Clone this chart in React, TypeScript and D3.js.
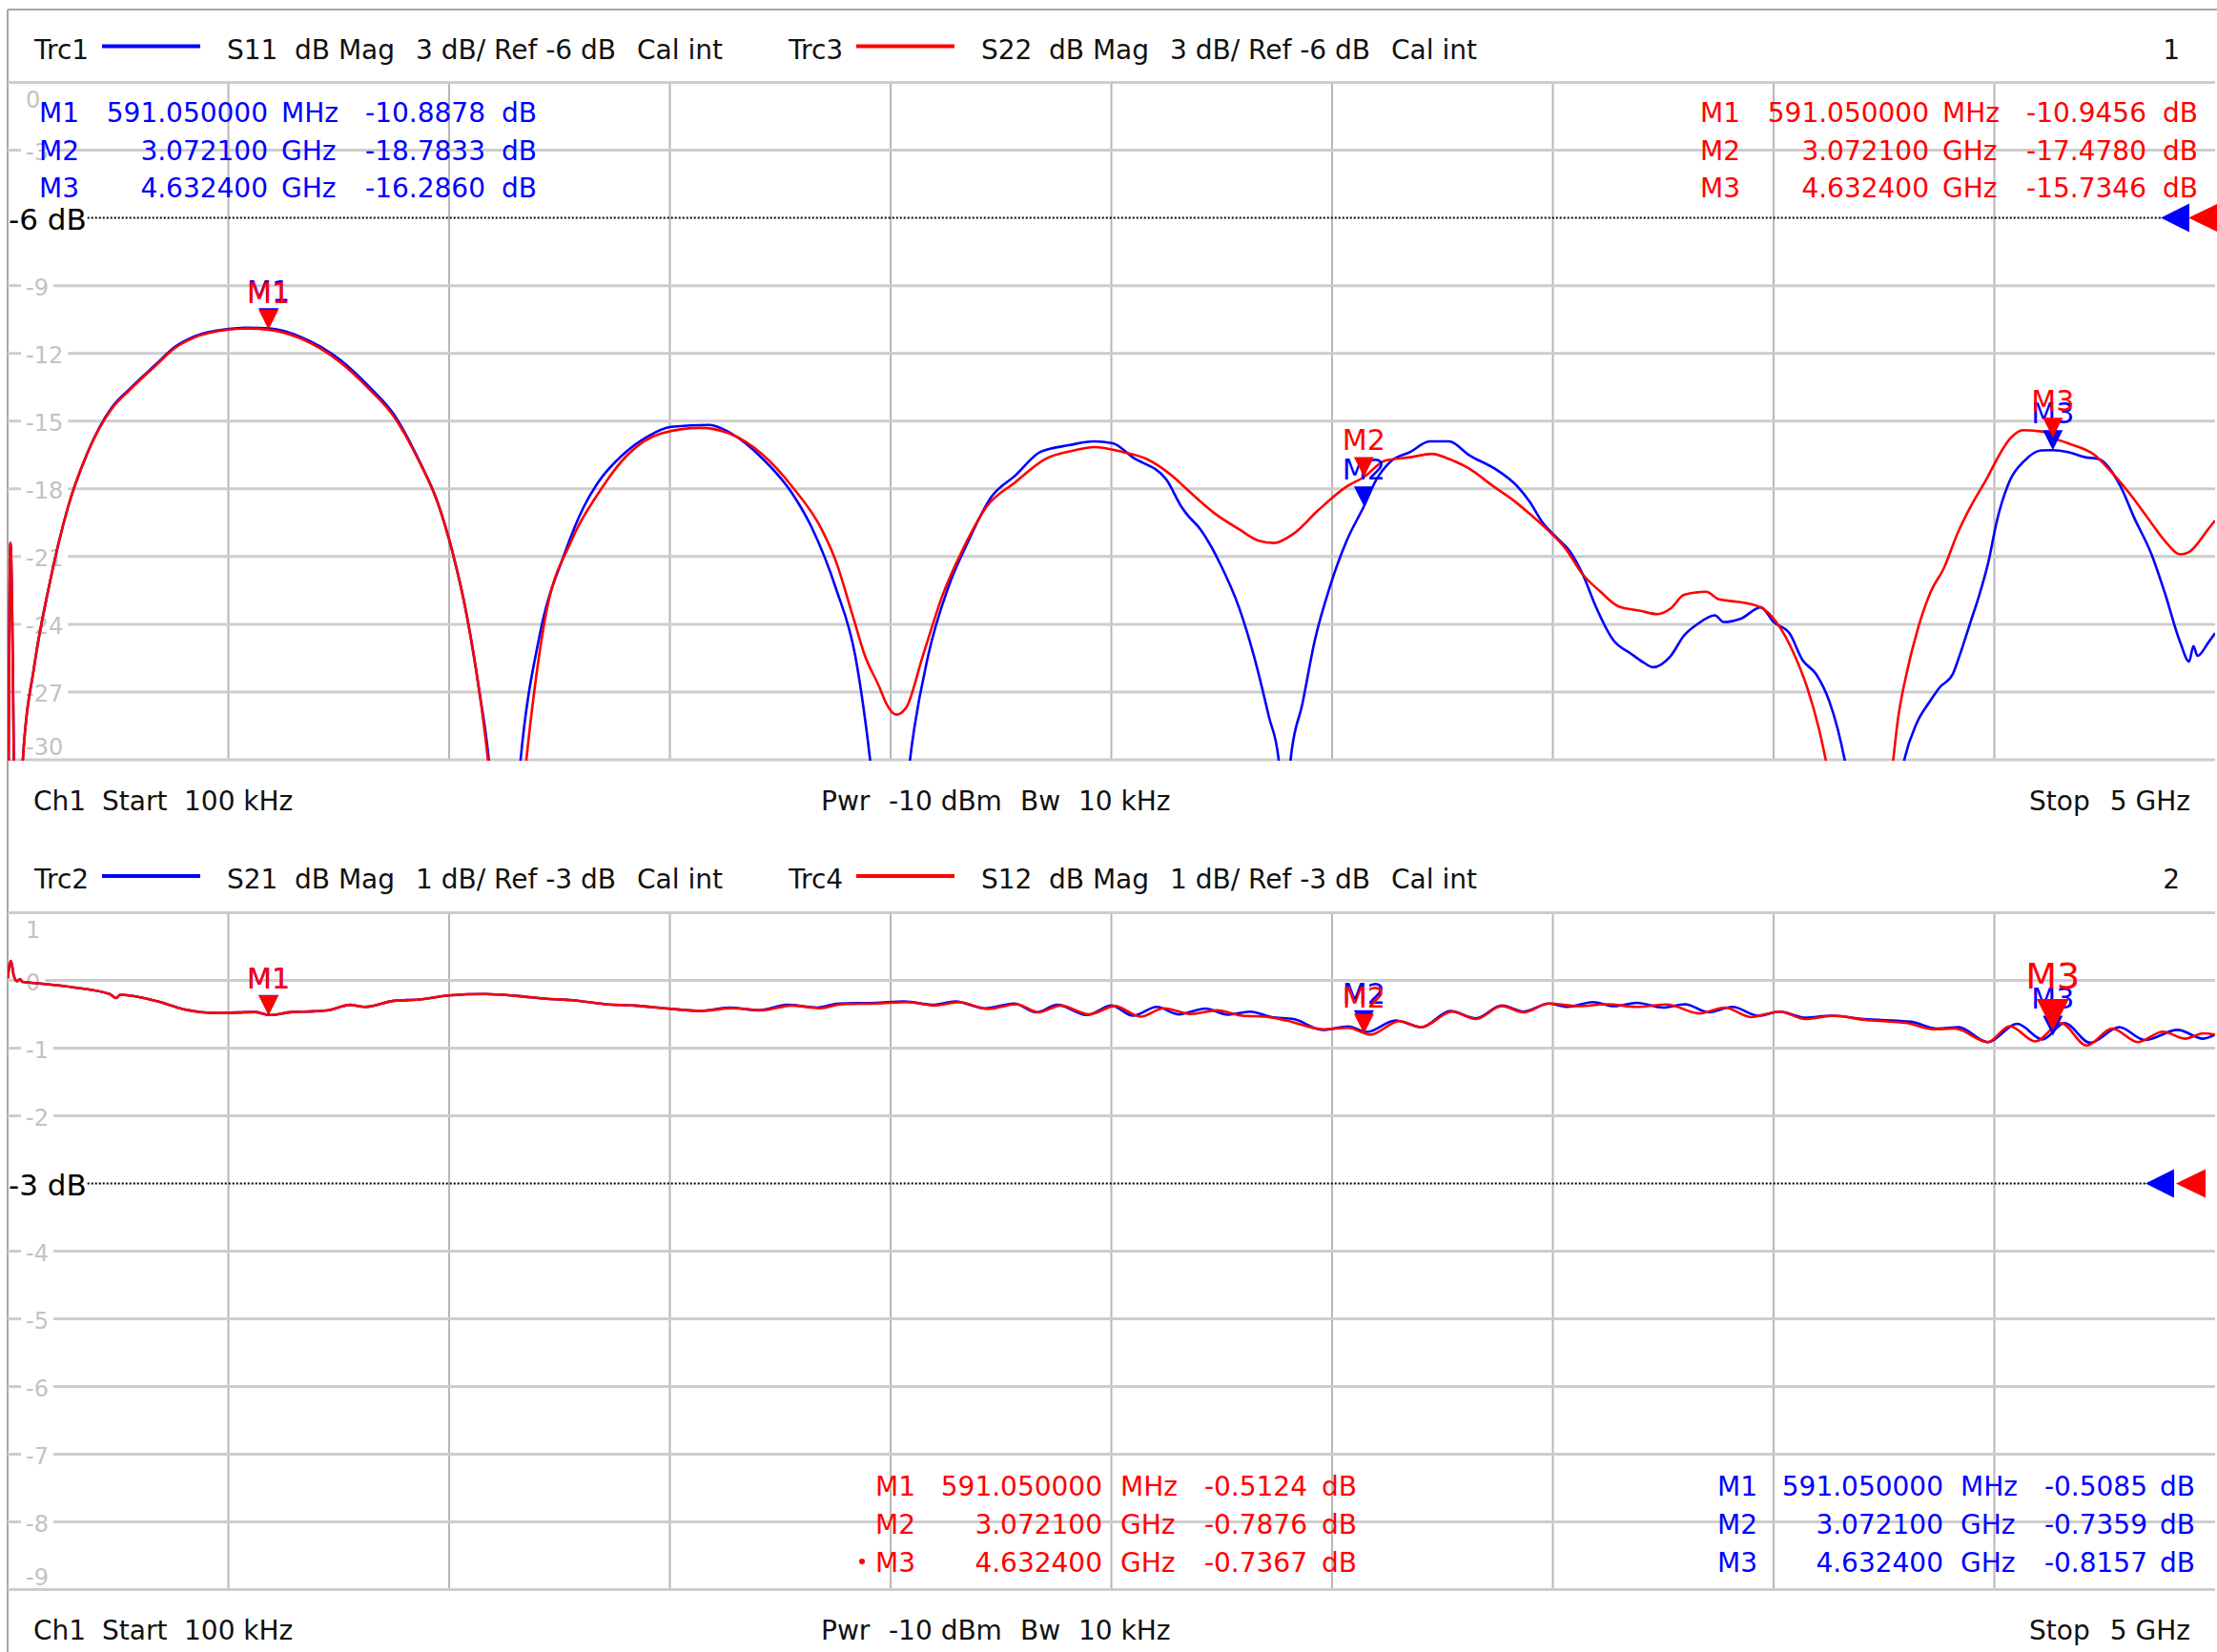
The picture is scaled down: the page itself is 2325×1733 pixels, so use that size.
import { useRef, useEffect } from 'react';
import * as d3 from 'd3';

type Pt = [number, number]; // [GHz, dB]

const WIDTH = 2325;
const HEIGHT = 1733;
const FONT = '"DejaVu Sans", Verdana, sans-serif';
const BLUE = '#0000ff';
const RED = '#ff0000';

const FREQ_START = 0.0001; // 100 kHz in GHz
const FREQ_STOP = 5;

// Marker table
const markerNames = ['M1', 'M2', 'M3'];
const markerFreqs = [0.59105, 3.0721, 4.6324];
const markerFreqText = ['591.050000', '3.072100', '4.632400'];
const markerUnits = ['MHz', 'GHz', 'GHz'];
const s11Markers = [-10.8878, -18.7833, -16.286];
const s22Markers = [-10.9456, -17.478, -15.7346];
const s21Markers = [-0.5085, -0.7359, -0.8157];
const s12Markers = [-0.5124, -0.7876, -0.7367];

const s11: Pt[] = [
    [0.0001, -40], [0.0065, -20.4], [0.022, -40], [0.0346, -30], [0.06, -25.9], [0.093, -22.4],
    [0.137, -18.8], [0.181, -16.4], [0.236, -14.4], [0.275, -13.6], [0.335, -12.5], [0.38, -11.7],
    [0.423, -11.25], [0.501, -10.92], [0.544, -10.86], [0.594, -10.9], [0.665, -11.28], [0.754, -12.3],
    [0.82, -13.5], [0.875, -14.7], [0.93, -16.66], [0.974, -18.6], [1.007, -20.75], [1.04, -23.6],
    [1.068, -26.9], [1.09, -30], [1.125, -40], [1.162, -30], [1.205, -24.5], [1.261, -20.9],
    [1.305, -18.8], [1.338, -17.7], [1.393, -16.5], [1.448, -15.7], [1.503, -15.25], [1.59, -15.17],
    [1.635, -15.5], [1.711, -16.68], [1.777, -18.2], [1.821, -19.7], [1.876, -22.4], [1.92, -25.4],
    [1.953, -29.9], [2.0, -40], [2.044, -30], [2.085, -25.4], [2.13, -22.4], [2.173, -20.45],
    [2.229, -18.34], [2.283, -17.4], [2.339, -16.37], [2.404, -16.07], [2.46, -15.9], [2.503, -15.98],
    [2.548, -16.6], [2.625, -17.6], [2.659, -18.8], [2.67, -19.1], [2.702, -19.8], [2.746, -21.3],
    [2.79, -23.3], [2.823, -25.4], [2.857, -28.1], [2.879, -30], [2.892, -40], [2.906, -30],
    [2.933, -27.5], [2.961, -24.7], [2.994, -22.4], [3.033, -20.3], [3.072, -18.78], [3.1, -17.6],
    [3.132, -16.8], [3.177, -16.37], [3.221, -15.9], [3.265, -15.9], [3.31, -16.5], [3.376, -17.2],
    [3.42, -17.9], [3.447, -18.56], [3.477, -19.5], [3.508, -20.15], [3.538, -20.75], [3.568, -21.8],
    [3.597, -23.2], [3.637, -24.7], [3.677, -25.3], [3.706, -25.7], [3.727, -25.9], [3.767, -25.4],
    [3.797, -24.5], [3.827, -24.0], [3.867, -23.6], [3.887, -23.9], [3.926, -23.75], [3.971, -23.25],
    [4.0, -23.9], [4.036, -24.4], [4.066, -25.6], [4.096, -26.2], [4.126, -27.4], [4.146, -28.7],
    [4.161, -30], [4.23, -40], [4.296, -30], [4.326, -28.3], [4.351, -27.5], [4.376, -26.8],
    [4.406, -26.2], [4.421, -25.4], [4.446, -23.9], [4.466, -22.7], [4.487, -21.2], [4.506, -19.4],
    [4.536, -17.6], [4.566, -16.8], [4.606, -16.3], [4.632, -16.29], [4.667, -16.37], [4.706, -16.6],
    [4.736, -16.68], [4.786, -17.9], [4.816, -19.25], [4.856, -20.9], [4.886, -22.6], [4.921, -24.8],
    [4.941, -25.65], [4.951, -24.97], [4.96, -25.4], [4.985, -24.8], [5.0, -24.4],
];

// S22 (Trc3) dB
const s22: Pt[] = [
    [0.0001, -40], [0.0065, -20.4], [0.022, -40], [0.0346, -30], [0.06, -25.9], [0.093, -22.4],
    [0.137, -18.8], [0.181, -16.4], [0.236, -14.45], [0.275, -13.65], [0.335, -12.55], [0.38, -11.75],
    [0.423, -11.3], [0.501, -10.95], [0.544, -10.9], [0.591, -10.95], [0.665, -11.35], [0.754, -12.4],
    [0.82, -13.6], [0.875, -14.8], [0.93, -16.7], [0.974, -18.6], [1.007, -20.75], [1.04, -23.6],
    [1.068, -26.9], [1.088, -30], [1.13, -40], [1.175, -30], [1.216, -23.9], [1.277, -20.3],
    [1.338, -18.2], [1.404, -16.5], [1.48, -15.55], [1.57, -15.3], [1.635, -15.55], [1.711, -16.5],
    [1.777, -17.9], [1.844, -19.8], [1.876, -21.2], [1.914, -23.6], [1.942, -25.4], [1.975, -26.8],
    [1.99, -27.5], [2.013, -28.0], [2.035, -27.7], [2.073, -25.4], [2.118, -22.7], [2.162, -20.75],
    [2.217, -18.8], [2.283, -17.7], [2.35, -16.68], [2.416, -16.3], [2.46, -16.15], [2.526, -16.37],
    [2.58, -16.68], [2.636, -17.4], [2.67, -18.0], [2.735, -19.1], [2.79, -19.8], [2.834, -20.3],
    [2.868, -20.4], [2.912, -20.0], [2.968, -18.96], [3.033, -17.9], [3.072, -17.48], [3.12, -16.75],
    [3.177, -16.6], [3.226, -16.45], [3.265, -16.68], [3.31, -17.1], [3.366, -17.9], [3.41, -18.5],
    [3.447, -19.1], [3.487, -19.8], [3.527, -20.6], [3.568, -21.8], [3.608, -22.56], [3.648, -23.2],
    [3.698, -23.4], [3.737, -23.55], [3.767, -23.3], [3.797, -22.7], [3.847, -22.56], [3.877, -22.9],
    [3.917, -23.0], [3.971, -23.25], [4.006, -23.9], [4.046, -25.3], [4.076, -26.8], [4.106, -28.9],
    [4.118, -30], [4.19, -40], [4.271, -30], [4.281, -28.3], [4.301, -26.2], [4.326, -24.25],
    [4.356, -22.56], [4.386, -21.5], [4.416, -20.0], [4.446, -18.8], [4.487, -17.4], [4.506, -16.68],
    [4.536, -15.77], [4.566, -15.4], [4.611, -15.47], [4.632, -15.73], [4.667, -15.98], [4.727, -16.5],
    [4.767, -17.3], [4.806, -18.2], [4.846, -19.25], [4.886, -20.3], [4.921, -20.9], [4.941, -20.8],
    [4.985, -19.77], [5.0, -19.4],
];

// S21 (Trc2) dB
const s21: Pt[] = [
    [0.0001, 0.03], [0.0075, 0.29], [0.014, 0.075], [0.022, -0.01], [0.028, 0.02], [0.034, -0.02],
    [0.065, -0.04], [0.148, -0.1], [0.231, -0.2], [0.246, -0.26], [0.255, -0.21], [0.346, -0.32],
    [0.396, -0.42], [0.479, -0.48], [0.561, -0.465], [0.594, -0.51], [0.644, -0.465], [0.693, -0.455],
    [0.727, -0.44], [0.776, -0.36], [0.809, -0.39], [0.875, -0.3], [0.933, -0.28], [0.999, -0.22],
    [1.082, -0.2], [1.156, -0.23], [1.222, -0.27], [1.279, -0.29], [1.354, -0.35], [1.42, -0.37],
    [1.503, -0.42], [1.569, -0.45], [1.635, -0.4], [1.701, -0.44], [1.766, -0.36], [1.834, -0.4],
    [1.883, -0.34], [1.966, -0.33], [2.031, -0.31], [2.097, -0.36], [2.147, -0.31], [2.214, -0.41],
    [2.28, -0.34], [2.33, -0.47], [2.378, -0.36], [2.445, -0.51], [2.5, -0.37], [2.549, -0.52],
    [2.603, -0.39], [2.652, -0.5], [2.714, -0.415], [2.764, -0.505], [2.814, -0.46], [2.863, -0.54],
    [2.913, -0.57], [2.979, -0.73], [3.037, -0.68], [3.078, -0.76], [3.144, -0.59], [3.202, -0.69],
    [3.268, -0.45], [3.326, -0.56], [3.384, -0.37], [3.434, -0.46], [3.491, -0.34], [3.533, -0.39],
    [3.591, -0.32], [3.64, -0.38], [3.69, -0.33], [3.75, -0.4], [3.799, -0.35], [3.853, -0.47],
    [3.907, -0.39], [3.965, -0.52], [4.014, -0.46], [4.072, -0.55], [4.13, -0.52], [4.204, -0.57],
    [4.312, -0.61], [4.37, -0.71], [4.419, -0.69], [4.485, -0.91], [4.552, -0.64], [4.609, -0.87],
    [4.659, -0.63], [4.717, -0.92], [4.783, -0.69], [4.841, -0.88], [4.915, -0.73], [4.973, -0.86],
    [5.0, -0.8],
];

// S12 (Trc4) dB
const s12: Pt[] = [
    [0.0001, 0.03], [0.0075, 0.29], [0.014, 0.075], [0.022, -0.01], [0.028, 0.02], [0.034, -0.02],
    [0.065, -0.04], [0.148, -0.1], [0.231, -0.2], [0.246, -0.26], [0.255, -0.21], [0.346, -0.32],
    [0.396, -0.42], [0.479, -0.48], [0.561, -0.465], [0.594, -0.51], [0.644, -0.465], [0.693, -0.455],
    [0.727, -0.44], [0.776, -0.36], [0.809, -0.39], [0.875, -0.3], [0.933, -0.28], [0.999, -0.22],
    [1.082, -0.2], [1.156, -0.23], [1.222, -0.27], [1.279, -0.29], [1.354, -0.35], [1.42, -0.37],
    [1.503, -0.42], [1.569, -0.45], [1.64, -0.41], [1.71, -0.44], [1.775, -0.37], [1.84, -0.41],
    [1.89, -0.35], [1.97, -0.34], [2.04, -0.32], [2.1, -0.37], [2.155, -0.32], [2.22, -0.42],
    [2.285, -0.35], [2.335, -0.47], [2.385, -0.37], [2.45, -0.5], [2.508, -0.377], [2.566, -0.533],
    [2.619, -0.41], [2.681, -0.495], [2.739, -0.44], [2.797, -0.52], [2.847, -0.533], [2.896, -0.59],
    [2.979, -0.72], [3.037, -0.7], [3.087, -0.8], [3.152, -0.6], [3.202, -0.69], [3.272, -0.46],
    [3.326, -0.57], [3.384, -0.38], [3.434, -0.47], [3.491, -0.34], [3.558, -0.38], [3.624, -0.35],
    [3.69, -0.39], [3.758, -0.354], [3.832, -0.486], [3.89, -0.4], [3.948, -0.54], [4.014, -0.46],
    [4.072, -0.57], [4.138, -0.52], [4.204, -0.58], [4.303, -0.63], [4.361, -0.72], [4.411, -0.71],
    [4.485, -0.91], [4.535, -0.675], [4.593, -0.9], [4.651, -0.63], [4.709, -0.96], [4.767, -0.71],
    [4.825, -0.91], [4.882, -0.755], [4.932, -0.86], [4.973, -0.78], [5.0, -0.8],
];

interface ReadoutCols { m: number; num: number; unit: number; val: number; db: number; }

interface PlotSpec {
    top: number;
    bottom: number;
    yMax: number;
    yMin: number;
    step: number;
    ref: number;
    headerY: number;
    footerY: number;
    trcBlue: string;
    sBlue: string;
    trcRed: string;
    sRed: string;
    scaleText: string;
    channel: string;
    blue: Pt[];
    red: Pt[];
    blueMarkers: number[];
    redMarkers: number[];
    blueCols: ReadoutCols;
    redCols: ReadoutCols;
    readoutRows: number[];
    refTri: { blue: number; red: number };
    activeRed: number; // index of active (big) red marker, -1 for none
}

const LEFT = 8;
const RIGHT = 2323;

export default function App() {
    const svgRef = useRef<SVGSVGElement>(null);

    useEffect(() => {
        document.body.style.margin = '0';
        if (!svgRef.current) return;
        const svg = d3.select(svgRef.current);
        svg.selectAll('*').remove();

        const xScale = d3.scaleLinear().domain([FREQ_START, FREQ_STOP]).range([LEFT, RIGHT]);

        // outer frame
        svg.append('line').attr('x1', LEFT).attr('x2', WIDTH).attr('y1', 10).attr('y2', 10)
            .attr('stroke', '#a8a8a8').attr('stroke-width', 2);
        svg.append('line').attr('x1', LEFT).attr('x2', LEFT).attr('y1', 10).attr('y2', HEIGHT)
            .attr('stroke', '#a8a8a8').attr('stroke-width', 2);

        const plots: PlotSpec[] = [
            {
                top: 86.5, bottom: 797, yMax: 0, yMin: -30, step: 3, ref: -6,
                headerY: 61.5, footerY: 850,
                trcBlue: 'Trc1', sBlue: 'S11', trcRed: 'Trc3', sRed: 'S22',
                scaleText: '3 dB/ Ref -6 dB', channel: '1',
                blue: s11, red: s22, blueMarkers: s11Markers, redMarkers: s22Markers,
                blueCols: { m: 41, num: 281, unit: 295, val: 509, db: 526 },
                redCols: { m: 1783, num: 2023, unit: 2037, val: 2251, db: 2268 },
                readoutRows: [128, 167.5, 207],
                refTri: { blue: 2266, red: 2295 },
                activeRed: -1,
            },
            {
                top: 957.6, bottom: 1667.5, yMax: 1, yMin: -9, step: 1, ref: -3,
                headerY: 932, footerY: 1720,
                trcBlue: 'Trc2', sBlue: 'S21', trcRed: 'Trc4', sRed: 'S12',
                scaleText: '1 dB/ Ref -3 dB', channel: '2',
                blue: s21, red: s12, blueMarkers: s21Markers, redMarkers: s12Markers,
                blueCols: { m: 1801, num: 2038, unit: 2056, val: 2252, db: 2265 },
                redCols: { m: 918, num: 1156, unit: 1175, val: 1371, db: 1386 },
                readoutRows: [1569, 1609, 1649],
                refTri: { blue: 2250, red: 2282 },
                activeRed: 2,
            },
        ];

        const txt = (g: d3.Selection<SVGGElement, unknown, null, undefined>, x: number, y: number,
            s: string, opts: { size?: number; fill?: string; anchor?: string } = {}) =>
            g.append('text')
                .attr('x', x).attr('y', y)
                .attr('font-family', FONT)
                .attr('font-size', opts.size ?? 28)
                .attr('fill', opts.fill ?? '#111')
                .attr('text-anchor', opts.anchor ?? 'start')
                .style('white-space', 'pre')
                .text(s);

        plots.forEach((p, pi) => {
            const g = svg.append('g').attr('class', `plot-${pi}`);
            const yScale = d3.scaleLinear().domain([p.yMin, p.yMax]).range([p.bottom, p.top]);

            // Header
            const hy = p.headerY;
            [[p.trcBlue, p.sBlue, BLUE, 0], [p.trcRed, p.sRed, RED, 791]].forEach(([trc, s, col, dx]) => {
                const o = dx as number;
                txt(g, 36 + o, hy, trc as string);
                g.append('line').attr('x1', 107 + o).attr('x2', 210 + o).attr('y1', hy - 13).attr('y2', hy - 13)
                    .attr('stroke', col as string).attr('stroke-width', 4);
                txt(g, 238 + o, hy, s as string);
                txt(g, 309 + o, hy, 'dB Mag');
                txt(g, 436 + o, hy, p.scaleText);
                txt(g, 668 + o, hy, 'Cal int');
            });
            txt(g, 2286, hy, p.channel, { anchor: 'end' });

            // Footer
            const fy = p.footerY;
            txt(g, 35, fy, 'Ch1');
            txt(g, 107, fy, 'Start');
            txt(g, 193, fy, '100 kHz');
            txt(g, 861, fy, 'Pwr');
            txt(g, 932, fy, '-10 dBm');
            txt(g, 1070, fy, 'Bw');
            txt(g, 1131, fy, '10 kHz');
            txt(g, 2128, fy, 'Stop');
            txt(g, 2297, fy, '5 GHz', { anchor: 'end' });

            // Vertical grid
            const xTicks = d3.range(1, 10).map(i => FREQ_START + (FREQ_STOP - FREQ_START) * i / 10);
            g.append('g').selectAll('line').data(xTicks).join('line')
                .attr('x1', d => xScale(d)).attr('x2', d => xScale(d))
                .attr('y1', p.top).attr('y2', p.bottom)
                .attr('stroke', '#b8b8b8').attr('stroke-width', 2);

            // Horizontal grid and labels
            const yTicks = d3.range(p.yMax, p.yMin - p.step / 2, -p.step);
            const gridG = g.append('g');
            yTicks.forEach((v, i) => {
                const y = yScale(v);
                const isEdge = i === 0 || i === yTicks.length - 1;
                if (v === p.ref) {
                    const lbl = txt(gridG, 9, y + 12, `${v} dB`, { size: 31, fill: '#000' });
                    const w = (lbl.node() as SVGTextElement).getComputedTextLength();
                    gridG.append('line').attr('x1', 9 + w + 1).attr('x2', p.refTri.blue).attr('y1', y).attr('y2', y)
                        .attr('stroke', '#000').attr('stroke-width', 2).attr('stroke-dasharray', '2,2');
                    gridG.append('path')
                        .attr('d', `M${p.refTri.blue},${y}L${p.refTri.blue + 30},${y - 15}L${p.refTri.blue + 30},${y + 15}Z`)
                        .attr('fill', BLUE);
                    gridG.append('path')
                        .attr('d', `M${p.refTri.red},${y}L${p.refTri.red + 31},${y - 15}L${p.refTri.red + 31},${y + 15}Z`)
                        .attr('fill', RED);
                    return;
                }
                let baseline = y + 10;
                if (i === 0) baseline = p.top + 26;
                if (i === yTicks.length - 1) baseline = p.bottom - 5;
                const lbl = txt(gridG, 27, baseline, String(v), { size: 24, fill: '#c2c2c2' });
                const w = (lbl.node() as SVGTextElement).getComputedTextLength();
                const segs: [number, number][] = isEdge ? [[LEFT, RIGHT]] : [[LEFT, 22], [27 + w + 5, RIGHT]];
                segs.forEach(([a, b]) => {
                    gridG.insert('line', 'text').attr('x1', a).attr('x2', b).attr('y1', y).attr('y2', y)
                        .attr('stroke', '#cdcdcd').attr('stroke-width', 3);
                });
            });

            // Traces
            const clipId = `clip-${pi}`;
            svg.append('defs').append('clipPath').attr('id', clipId)
                .append('rect').attr('x', LEFT).attr('y', p.top - 2)
                .attr('width', RIGHT - LEFT).attr('height', p.bottom - p.top + 3);

            const line = d3.line<Pt>()
                .x(d => xScale(d[0]))
                .y(d => yScale(d[1]))
                .curve(d3.curveMonotoneX);

            const traceG = g.append('g').attr('clip-path', `url(#${clipId})`);
            traceG.append('path').attr('d', line(p.blue) ?? '')
                .attr('fill', 'none').attr('stroke', BLUE).attr('stroke-width', 2.6).attr('stroke-linejoin', 'round');
            traceG.append('path').attr('d', line(p.red) ?? '')
                .attr('fill', 'none').attr('stroke', RED).attr('stroke-width', 2.6).attr('stroke-linejoin', 'round');

            // Markers (blue first, red on top)
            const drawMarkers = (vals: number[], col: string, active: number) => {
                vals.forEach((v, i) => {
                    const x = xScale(markerFreqs[i]);
                    const tip = yScale(v);
                    const big = i === active;
                    const hw = big ? 17 : 10.5;
                    const h = big ? 33 : 21;
                    g.append('path')
                        .attr('d', `M${x - hw},${tip - h}L${x + hw},${tip - h}L${x},${tip}Z`)
                        .attr('fill', col);
                    txt(g, x, tip - (big ? 44 : 28), markerNames[i], { size: big ? 38 : 30, fill: col, anchor: 'middle' });
                });
            };
            drawMarkers(p.blueMarkers, BLUE, -1);
            drawMarkers(p.redMarkers, RED, p.activeRed);

            // Marker readouts (instrument uses a plain hyphen for minus)
            const fmt = (v: number) => v.toFixed(4);
            const drawReadout = (vals: number[], col: string, c: ReadoutCols, active: number) => {
                vals.forEach((v, i) => {
                    const y = p.readoutRows[i];
                    if (i === active) {
                        g.append('circle').attr('cx', c.m - 14).attr('cy', y - 11).attr('r', 3).attr('fill', col);
                    }
                    txt(g, c.m, y, markerNames[i], { fill: col });
                    txt(g, c.num, y, markerFreqText[i], { fill: col, anchor: 'end' });
                    txt(g, c.unit, y, markerUnits[i], { fill: col });
                    txt(g, c.val, y, fmt(v), { fill: col, anchor: 'end' });
                    txt(g, c.db, y, 'dB', { fill: col });
                });
            };
            drawReadout(p.blueMarkers, BLUE, p.blueCols, -1);
            drawReadout(p.redMarkers, RED, p.redCols, p.activeRed);
        });
    }, []);

    return (
        <svg
            ref={svgRef}
            width={WIDTH}
            height={HEIGHT}
            style={{ display: 'block', background: '#fff' }}
        />
    );
}
